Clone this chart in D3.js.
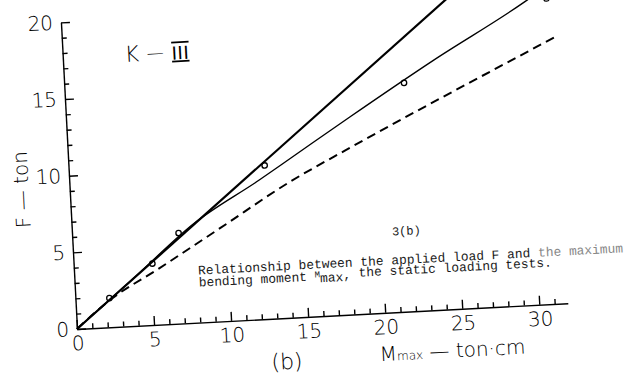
<!DOCTYPE html>
<html>
<head>
<meta charset="utf-8">
<title></title>
<style>
    body { margin: 0; background: #fff; }
    svg { display: block; }
    .axis path, .axis line { fill: none; stroke: #000; stroke-width: 1.4; }
    .axis text { font-family: "DejaVu Sans", sans-serif; font-weight: 200; font-size: 20px; fill: #000; }
    .lbl { font-family: "DejaVu Sans", sans-serif; font-weight: 200; fill: #000; }
    .cap { font-family: "Liberation Mono", monospace; font-size: 12.9px; fill: #1a1a1a; }
</style>
</head>
<body>
<script src="https://cdnjs.cloudflare.com/ajax/libs/d3/7.8.5/d3.min.js"></script>
<script>

var w = 629;
var h = 381;

// tick labels
var xTickLabels = [0, 5, 10, 15, 20, 25, 30];
var yTickLabels = [0, 5, 10, 15, 20];

// measured points (circles)
var testM = [2.2, 5.1, 6.9, 12.7, 22.0, 31.5];
var testF = [1.9, 4.0, 5.9, 10.0, 14.9, 19.9];

// thick straight line
var lineM = [0, 25.2];
var lineF = [0, 20.35];

// thin line through the tests
var fitM = [0, 4.0, 7.9, 12.3, 14.4, 18.4, 24.0, 30.1, 30.7];
var fitF = [0, 3.25, 6.45, 9.07, 10.38, 12.88, 16.28, 19.77, 20.15];

// dashed line
var dashM = [0, 2.2, 5.5, 9.6, 14.3, 18.0, 24.3, 27.6, 31.9];
var dashF = [0, 1.75, 3.65, 6.07, 8.86, 10.72, 13.77, 15.33, 17.35];

var svg = d3.select("body")
            .append("svg")
            .attr("width", w)
            .attr("height", h);

// the scanned page is a little tilted
var g = svg.append("g")
           .attr("transform", "translate(77,329) rotate(-3)");

var xScale = d3.scaleLinear()
               .domain([0, 31.85])
               .range([0, 31.85 * 15.43]);

var yScale = d3.scaleLinear()
               .domain([0, 20])
               .range([0, -307]);

var minorX = d3.range(1, 32).filter(function(d) { return d % 5 !== 0; });
var minorY = d3.range(1, 20).filter(function(d) { return d % 5 !== 0; });

// x axis, ticks pointing up
g.append("g")
    .attr("class", "x axis")
    .call(d3.axisBottom(xScale).tickValues(minorX).tickSizeInner(-5).tickSizeOuter(0).tickFormat(""));

g.append("g")
    .attr("class", "x axis")
    .call(d3.axisBottom(xScale).tickValues(xTickLabels).tickSizeInner(-9).tickSizeOuter(0).tickPadding(7))
    .call(function(a) { a.select(".domain").remove(); });

// y axis, ticks pointing right
g.append("g")
    .attr("class", "y axis")
    .call(d3.axisLeft(yScale).tickValues(minorY).tickSizeInner(-5).tickSizeOuter(0).tickFormat(""));

g.append("g")
    .attr("class", "y axis")
    .call(d3.axisLeft(yScale).tickValues(yTickLabels).tickSizeInner(-9).tickSizeOuter(0).tickPadding(8))
    .call(function(a) { a.select(".domain").remove(); });

var line = d3.line()
             .x(function(d) { return xScale(d[0]); })
             .y(function(d) { return yScale(d[1]); })
             .curve(d3.curveMonotoneX);

g.append("path")
    .datum(d3.zip(lineM, lineF))
    .attr("d", line)
    .attr("fill", "none")
    .attr("stroke", "#000")
    .attr("stroke-width", 2.2);

g.append("path")
    .datum(d3.zip(fitM, fitF))
    .attr("d", line)
    .attr("fill", "none")
    .attr("stroke", "#000")
    .attr("stroke-width", 1.4);

g.append("path")
    .datum(d3.zip(dashM, dashF))
    .attr("d", line)
    .attr("fill", "none")
    .attr("stroke", "#000")
    .attr("stroke-width", 2)
    .attr("stroke-dasharray", "9,5.5");

g.selectAll("circle")
    .data(d3.zip(testM, testF))
    .enter()
    .append("circle")
    .attr("cx", function(d) { return xScale(d[0]); })
    .attr("cy", function(d) { return yScale(d[1]); })
    .attr("r", 2.7)
    .attr("fill", "none")
    .attr("stroke", "#000")
    .attr("stroke-width", 1.3);

// K - III
var k = g.append("text")
    .attr("class", "lbl")
    .attr("x", 62)
    .attr("y", -264)
    .style("font-size", "22px");
k.append("tspan").text("K");
k.append("tspan").attr("x", 84).attr("dy", -2).style("font-size", "17px").text("—");
k.append("tspan").attr("x", 109).attr("dy", 2)
    .style("font-size", "18px")
    .style("font-weight", "400")
    .style("letter-spacing", "0.5px")
    .style("text-decoration", "overline underline")
    .text("III");

// y label
g.append("text")
    .attr("class", "lbl")
    .attr("transform", "translate(-48,-142) rotate(-90)")
    .attr("text-anchor", "middle")
    .attr("dominant-baseline", "central")
    .style("font-size", "20px")
    .text("F — ton");

// x label
var xl = g.append("text")
    .attr("class", "lbl")
    .attr("x", 301)
    .attr("y", 48)
    .style("font-size", "20px");
xl.append("tspan").text("M");
xl.append("tspan").style("font-size", "12px").text("max");
xl.append("tspan").text(" — ton·cm");

g.append("text")
    .attr("class", "lbl")
    .attr("x", 208)
    .attr("y", 51)
    .attr("text-anchor", "middle")
    .style("font-size", "22px")
    .text("(b)");

// pasted caption
g.append("text")
    .attr("class", "cap")
    .attr("x", 334)
    .attr("y", -77)
    .attr("text-anchor", "middle")
    .style("font-size", "12px")
    .text("3(b)");

var c1 = g.append("text")
    .attr("class", "cap")
    .attr("x", 124)
    .attr("y", -48);
c1.append("tspan").text("Relationship between the applied load F and ");
c1.append("tspan").style("fill", "#888").text("the maximum");

var c2 = g.append("text")
    .attr("class", "cap")
    .attr("x", 124)
    .attr("y", -36);
c2.append("tspan").text("bending moment ");
c2.append("tspan").attr("dy", -3).style("font-size", "9px").text("M");
c2.append("tspan").attr("dy", 5).text("max");
c2.append("tspan").attr("dy", -2).text(", ");
c2.append("tspan").attr("dy", -1.5).text("the static loading tests.");

</script>
</body>
</html>
